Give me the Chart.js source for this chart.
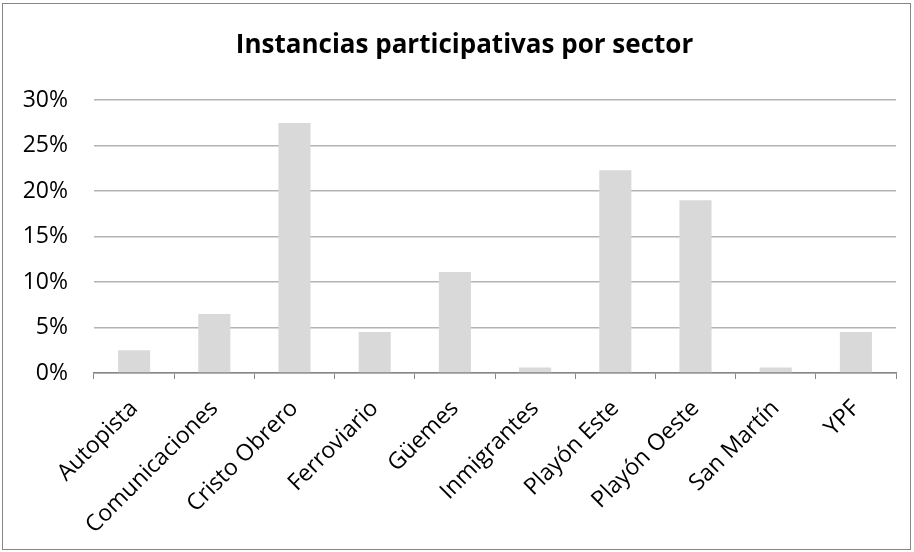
<!DOCTYPE html>
<html>
<head>
<meta charset="utf-8">
<script src="https://cdn.jsdelivr.net/npm/chart.js@4"></script>
<style>
  html, body { margin: 0; padding: 0; background: #fff; }
  #wrap { position: absolute; left: 2px; top: 3px; width: 907px; height: 545px; border: 1px solid #868686; }
  canvas { position: absolute; left: 0; top: 0; }
</style>
</head>
<body>
<div id="wrap"><canvas id="chart" width="907" height="545"></canvas></div>
<script>
const sectores = ['Autopista', 'Comunicaciones', 'Cristo Obrero', 'Ferroviario', 'Güemes',
    'Inmigrantes', 'Playón Este', 'Playón Oeste', 'San Martín', 'YPF'];
const porcentajes = [2.5, 6.5, 27.5, 4.5, 11.1, 0.6, 22.3, 19.0, 0.6, 4.5];
const yTicks = [0, 5, 10, 15, 20, 25, 30];

// nudge the title a little to the right, like the original
const titleShift = {
    id: 'titleShift',
    afterLayout(chart) {
        const t = chart.titleBlock;
        if (t) { t.left += 5; t.right += 5; }
    }
};

const ctx = document.getElementById('chart').getContext('2d');
new Chart(ctx, {
    type: 'bar',
    data: {
        labels: sectores,
        datasets: [{
            data: porcentajes,
            backgroundColor: '#d9d9d9',
            borderWidth: 0,
            barPercentage: 0.4,
            categoryPercentage: 1
        }]
    },
    plugins: [titleShift],
    options: {
        responsive: false,
        animation: false,
        layout: { padding: { left: 20, right: 14, top: 26, bottom: 0 } },
        plugins: {
            legend: { display: false },
            tooltip: { enabled: false },
            title: {
                display: true,
                text: 'Instancias participativas por sector',
                color: '#000',
                font: { family: 'Open Sans', size: 26, weight: 'bold' },
                padding: { top: 0, bottom: 39 }
            }
        },
        scales: {
            x: {
                offset: true,
                // keep the first rotated label from pushing the plot to the right
                afterFit: axis => { axis.paddingLeft = 0; axis.paddingRight = 0; axis.height = 176; },
                grid: { drawOnChartArea: false, drawTicks: true, tickLength: 6, color: '#868686', offset: true },
                border: { color: '#868686', width: 1.5 },
                ticks: {
                    color: '#000',
                    font: { family: 'Open Sans', size: 23 },
                    maxRotation: 45,
                    minRotation: 45,
                    padding: 16,
                    autoSkip: false
                }
            },
            y: {
                min: 0,
                max: 30,
                afterBuildTicks: axis => { axis.ticks = yTicks.map(v => ({ value: v })); },
                afterFit: axis => { axis.width = 71; },
                grid: { color: '#b3b3b3', lineWidth: 1.5, drawTicks: false },
                border: { display: false },
                ticks: {
                    color: '#000',
                    font: { family: 'Open Sans', size: 23 },
                    padding: 26,
                    callback: v => v + '%'
                }
            }
        }
    }
});
</script>
</body>
</html>
